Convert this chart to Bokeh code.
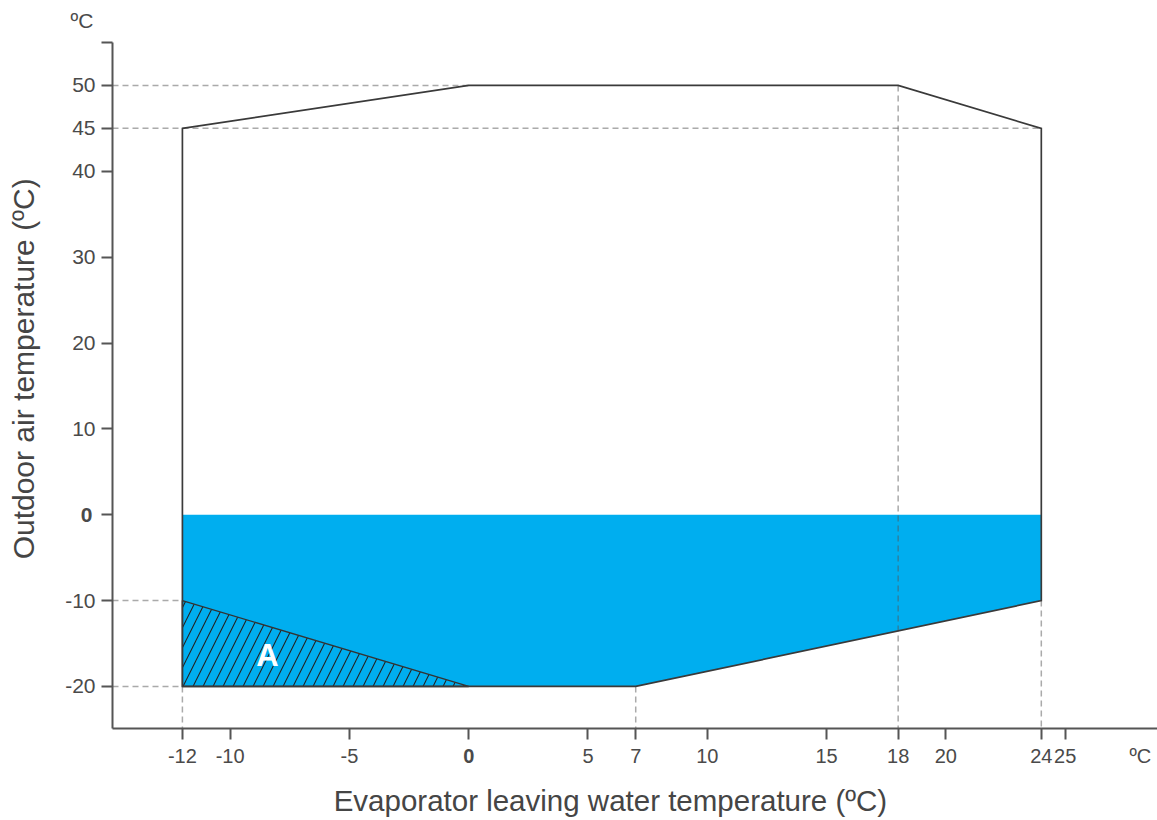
from bokeh.plotting import figure
from bokeh.models import Range1d, FixedTicker, Label, LinearAxis
from bokeh.embed import file_html
from bokeh.resources import INLINE

# Operating envelope (evaporator leaving water temp, outdoor air temp)
env_x = [-12, 0, 18, 24, 24, 7, -12]
env_y = [45, 50, 50, 45, -10, -20, -20]
# Blue zone (outdoor air below 0)
blue_x = [-12, 24, 24, 7, -12]
blue_y = [0, 0, -10, -20, -20]
# Hatched zone A
a_x = [-12, 0, -12]
a_y = [-10, -20, -20]
a_label = ("A", -8.44, -16.4)
# Reference (dashed) lines: horizontal (y, x_end) and vertical (x, y_start)
h_ref_y = [50, 45, -10, -20]
h_ref_xend = [0, 24, -12, -12]
v_ref_x = [-12, 7, 18, 24]
v_ref_ystart = [-20, -20, 50, -10]
x_ticks = [-12, -10, -5, 0, 5, 7, 10, 15, 18, 20, 24, 25]
y_ticks = [-20, -10, 0, 10, 20, 30, 40, 45, 50, 55]
x_unit_pos = 28.15
x_title = "Evaporator leaving water temperature (ºC)"
y_title = "Outdoor air temperature (ºC)"
unit = "ºC"

X0, X1 = -14.93, 28.87
Y0, Y1 = -24.9, 55.0
FONT = "Liberation Sans"
TXT = "#4a4a4a"
TITLE = "#454545"
AX = "#555555"
NB = "\u00a0"
XFS = "20px"
YFS = "21px"

p = figure(width=1157, height=820, x_range=Range1d(X0, X1), y_range=Range1d(Y0, Y1),
           output_backend="svg", toolbar_location=None,
           min_border_left=112, min_border_right=0, min_border_top=42, min_border_bottom=92)
p.outline_line_color = None
p.grid.visible = False
p.background_fill_color = "white"

# blue zone
p.patch(blue_x, blue_y, fill_color="#00aeef", line_color=None)
# hatched zone A
p.patch(a_x, a_y, fill_alpha=0, line_color="#333333", line_width=1.4,
        hatch_pattern="/", hatch_color="#222222", hatch_scale=20, hatch_weight=1.1)

# dashed reference lines
xs = [[X0, xe] for xe in h_ref_xend] + [[xv, xv] for xv in v_ref_x]
ys = [[yv, yv] for yv in h_ref_y] + [[ys_, Y0] for ys_ in v_ref_ystart]
p.multi_line(xs, ys, line_color="#555555", line_alpha=0.5, line_width=1.5, line_dash="6 4")

# envelope outline
p.patch(env_x, env_y, fill_alpha=0, line_color="#3a3a3a", line_width=1.7, line_join="miter")

def hyph(t):
    return ("-%g" % -t) if t < 0 else "%g" % t

def style_main(ax, ticks, blank, fs):
    ax.ticker = FixedTicker(ticks=ticks)
    ov = {t: hyph(t) for t in ticks}
    for b in blank:
        ov[b] = ""
    ax.major_label_overrides = ov
    ax.axis_line_color = AX
    ax.axis_line_width = 2
    ax.major_tick_line_color = AX
    ax.major_tick_line_width = 2
    ax.major_tick_out = 11
    ax.major_tick_in = 0
    ax.minor_tick_line_color = None
    ax.major_label_text_font = FONT
    ax.major_label_text_font_size = fs
    ax.major_label_text_color = TXT

def label_axis(ticks, labels, standoff, fs, bold=False):
    ax = LinearAxis()
    ax.ticker = FixedTicker(ticks=ticks)
    ax.major_label_overrides = dict(zip(ticks, labels))
    ax.axis_line_color = None
    ax.major_tick_line_color = None
    ax.major_tick_out = 0
    ax.major_tick_in = 0
    ax.minor_tick_line_color = None
    ax.major_label_text_font = FONT
    ax.major_label_text_font_size = fs
    ax.major_label_text_color = TXT
    ax.major_label_text_font_style = "bold" if bold else "normal"
    ax.major_label_standoff = standoff
    return ax

style_main(p.xaxis[0], x_ticks, [0], XFS)
p.xaxis[0].major_label_standoff = 9
style_main(p.yaxis[0], y_ticks, [0, 55], YFS)
p.yaxis[0].major_label_standoff = 6

# bold zero on x, and unit at the right end of the x axis (same row as tick labels)
xb0 = label_axis([0], ["0"], -17, XFS, bold=True)
p.add_layout(xb0, "below")
xu = label_axis([x_unit_pos], [unit], -21, XFS)
xu.axis_label = x_title + NB * 6
xu.axis_label_standoff = 14
xu.axis_label_text_font = FONT
xu.axis_label_text_font_size = "29.5px"
xu.axis_label_text_font_style = "normal"
xu.axis_label_text_color = TITLE
p.add_layout(xu, "below")

# bold zero on y, carrying the y title
yb0 = label_axis([0], [NB * 4 + "0"], -30, YFS, bold=True)
yb0.axis_label = NB * 4 + y_title
yb0.axis_label_standoff = 14
yb0.axis_label_text_font = FONT
yb0.axis_label_text_font_size = "30px"
yb0.axis_label_text_font_style = "normal"
yb0.axis_label_text_color = TITLE
p.add_layout(yb0, "left")

# unit at the top of the y axis
p.title.text = unit
p.title.align = "left"
p.title.offset = -42
p.title.vertical_align = "top"
p.title.standoff = 17
p.title.text_font = FONT
p.title.text_font_size = YFS
p.title.text_font_style = "normal"
p.title.text_color = TXT

# zone label
p.add_layout(Label(x=a_label[1], y=a_label[2], text=a_label[0], text_align="center",
                   text_baseline="middle", text_font=FONT, text_font_size="31px",
                   text_font_style="bold", text_color="white"))

open("out.html", "w").write(file_html(p, INLINE))
